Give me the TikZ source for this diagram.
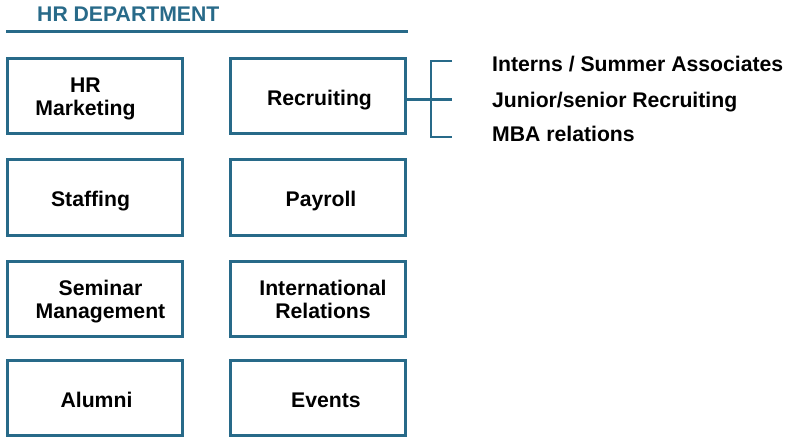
\documentclass[tikz,border=0pt]{standalone}
\usepackage{fontspec}
\setmainfont{Liberation Sans}
\definecolor{hrteal}{RGB}{40,106,137}
% #1 left pad, #2 right pad, #3 rows
\newcommand\hrtext[3]{\begin{tabular}[b]{@{\hspace{#1pt}}c@{\hspace{#2pt}}}#3\end{tabular}}
\begin{document}
\begin{tikzpicture}[x=1pt,y=-1pt,
  boxbase/.style={draw=hrteal,line width=3pt,minimum width=175pt,minimum height=75pt,inner sep=0pt,
    font=\fontsize{21.2}{23}\selectfont\bfseries,text depth=0pt},
  box/.style={boxbase,text height=19pt},
  boxtwo/.style={boxbase,text height=39pt},
  item/.style={anchor=base west,inner sep=0pt,font=\fontsize{21.2}{24}\selectfont\bfseries},
  thickline/.style={draw=hrteal,line width=3pt},
  thinline/.style={draw=hrteal,line width=2pt}]
\useasboundingbox (0,0) rectangle (786,438);
% title
\node[anchor=base west,inner sep=0pt,text=hrteal,font=\fontsize{21.2}{24}\selectfont\bfseries] (title) at (37,21.5) {HR DEPARTMENT};
\coordinate (ulL) at (6,31.5);
\coordinate (ulR) at (408,31.5);
\draw[thickline] (ulL) -- (ulR);
% boxes
\node[boxtwo] (hrm) at (95,96) {\hrtext{0}{19}{HR\\Marketing}};
\node[box] (rec) at (318,96) {\hrtext{3}{0}{Recruiting}};
\node[box] (sta) at (95,197.5) {\hrtext{0}{9}{Staffing}};
\node[box] (pay) at (318,197.5) {\hrtext{6}{0}{Payroll}};
\node[boxtwo] (sem) at (95,298.5) {\hrtext{11}{0}{Seminar\\Management}};
\node[boxtwo] (int) at (318,298.5) {\hrtext{10}{0}{International\\Relations}};
\node[box] (alu) at (95,398) {\hrtext{3}{0}{Alumni}};
\node[box] (eve) at (318,398) {\hrtext{16}{0}{Events}};
% bracket
\coordinate (mid) at (452,99.5);
\coordinate (bt) at (452,61);
\coordinate (btc) at (431,61);
\coordinate (bbc) at (431,137);
\coordinate (bb) at (452,137);
\draw[thickline] (rec.east |- mid) -- (mid);
\draw[thinline] (bt) -- (btc) -- (bbc) -- (bb);
% items
\node[item] (t1) at (492,72) {Interns / Summer Associates};
\node[item] (t2) at (492,108) {Junior/senior Recruiting};
\node[item] (t3) at (492,141.5) {MBA relations};
\end{tikzpicture}
\end{document}
